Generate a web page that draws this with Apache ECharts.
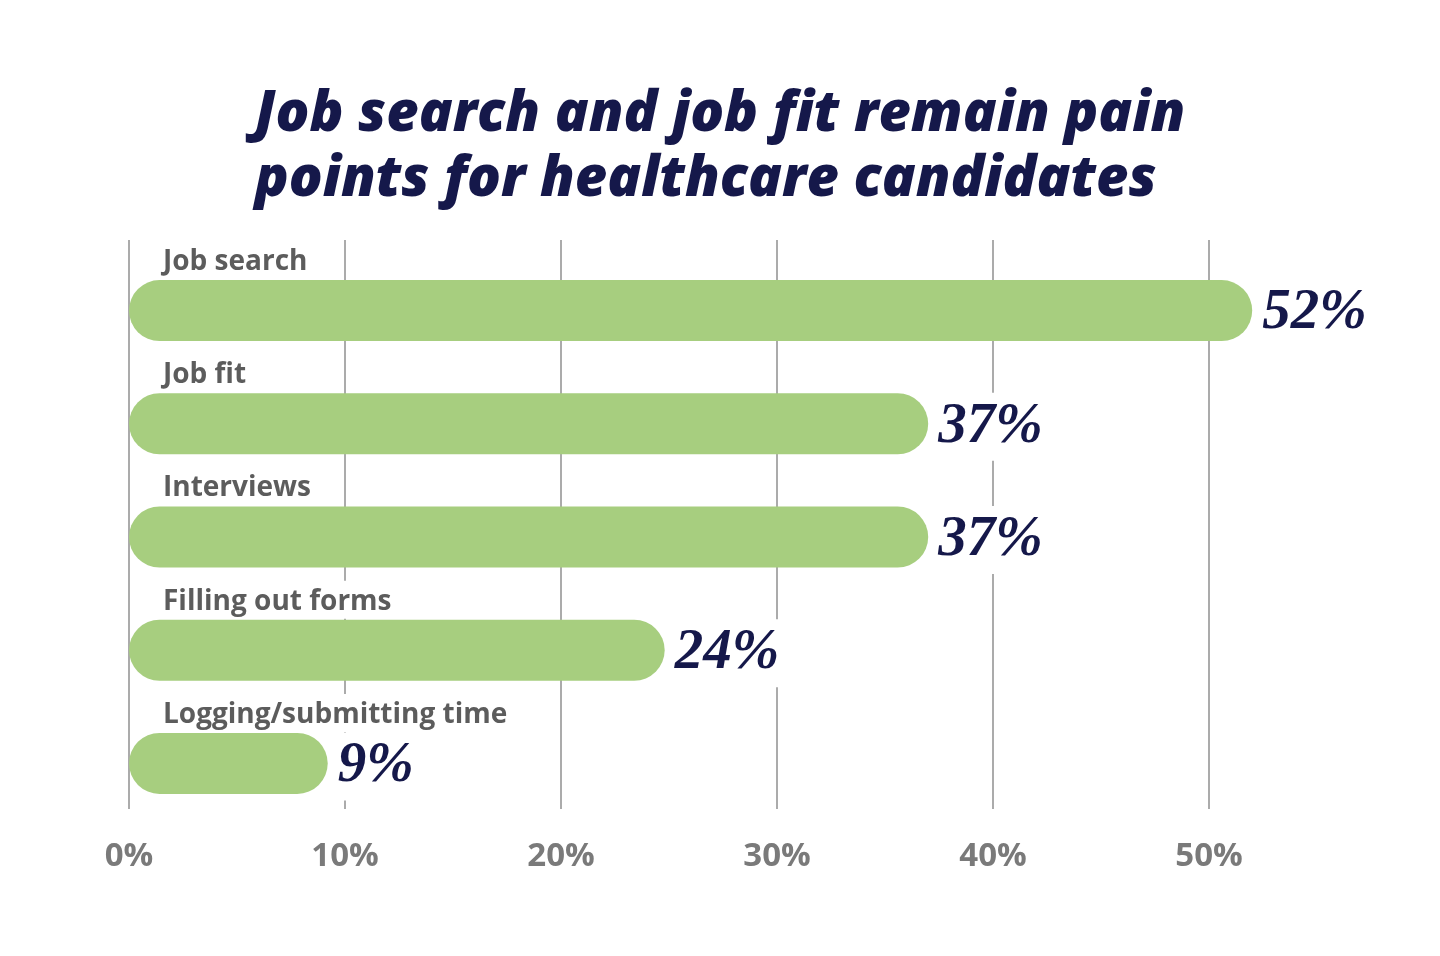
<!DOCTYPE html>
<html>
<head>
<meta charset="utf-8">
<script src="https://cdn.jsdelivr.net/npm/echarts@6/dist/echarts.min.js"></script>
<style>
html,body{margin:0;padding:0;background:#fff;}
#chart{width:1440px;height:956px;}
</style>
</head>
<body>
<div id="chart"></div>
<script>
const titleText = 'Job search and job fit remain pain\npoints for healthcare candidates';
const categories = ['Job search', 'Job fit', 'Interviews', 'Filling out forms', 'Logging/submitting time'];
const values = [52, 37, 37, 24.8, 9.2];
const valueLabels = ['52%', '37%', '37%', '24%', '9%'];
const tickValues = [0, 10, 20, 30, 40, 50];
const axisMax = 60;

const chart = echarts.init(document.getElementById('chart'), null, {renderer: 'canvas'});
const navy = '#15184a';
const green = '#a7ce7f';

const option = {
  backgroundColor: '#ffffff',
  animation: false,
  graphic: [{
    type: 'text',
    left: 'center',
    top: 83,
    style: {
      text: titleText,
      fontFamily: 'Open Sans',
      fontWeight: 800,
      fontStyle: 'italic',
      fontSize: 56,
      lineHeight: 65,
      fill: navy,
      align: 'center'
    }
  }],
  grid: [
    {left: 129, right: 15, top: 240, height: 569},
    {left: 129, right: 15, top: 254, height: 566}
  ],
  xAxis: [
    {
      gridIndex: 0, type: 'value', min: 0, max: axisMax, interval: 10,
      axisLine: {show: false}, axisTick: {show: false},
      splitLine: {show: true, showMaxLine: false, lineStyle: {color: '#ababab', width: 2}},
      axisLabel: {
        showMaxLabel: false,
        margin: 31,
        fontFamily: 'Open Sans', fontWeight: 'bold', fontSize: 33, color: '#7a7a7a',
        formatter: function (v) { return tickValues.indexOf(v) >= 0 ? v + '%' : ''; }
      }
    },
    {
      gridIndex: 1, type: 'value', min: 0, max: axisMax, interval: 10,
      show: false, splitLine: {show: false}
    }
  ],
  yAxis: [
    {gridIndex: 0, type: 'category', data: categories, inverse: true, show: false},
    {gridIndex: 1, type: 'category', data: categories, inverse: true, show: false}
  ],
  series: [
    {
      type: 'bar',
      xAxisIndex: 1, yAxisIndex: 1,
      data: values,
      barWidth: 61,
      barGap: '-100%',
      z: 3,
      itemStyle: {color: green, borderRadius: 30.5},
      label: {
        show: true,
        position: 'right',
        distance: 8,
        offset: [0, 3],
        formatter: function (p) { return valueLabels[p.dataIndex]; },
        fontFamily: 'Liberation Serif',
        fontStyle: 'italic',
        fontWeight: 'bold',
        fontSize: 57,
        lineHeight: 60,
        color: navy,
        backgroundColor: '#ffffff',
        padding: [4, 4, 4, 2]
      }
    },
    {
      type: 'bar',
      xAxisIndex: 1, yAxisIndex: 1,
      data: values,
      barWidth: 61,
      barGap: '-100%',
      z: 4,
      silent: true,
      itemStyle: {color: 'rgba(0,0,0,0)'},
      label: {
        show: true,
        position: [30, -39],
        align: 'left',
        verticalAlign: 'top',
        formatter: '{b}',
        fontFamily: 'Open Sans',
        fontWeight: 'bold',
        fontSize: 28,
        lineHeight: 28,
        color: '#5c5c5c',
        backgroundColor: '#ffffff',
        padding: [7, 6, 3, 4]
      }
    }
  ]
};
chart.setOption(option);
</script>
</body>
</html>
